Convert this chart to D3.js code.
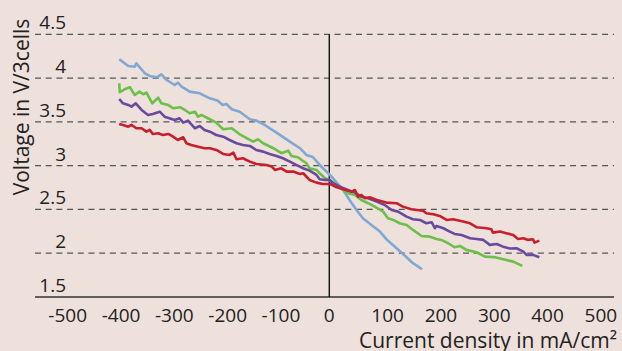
<!DOCTYPE html>
<html>
<head>
<meta charset="utf-8">
<script src="https://cdn.jsdelivr.net/npm/d3@7"></script>
<style>
  html, body { margin: 0; padding: 0; background: #eee0da; }
  svg { display: block; font-family: "Open Sans", "Noto Sans", sans-serif; }
</style>
</head>
<body>
<div id="chart"></div>
<script>
// Données : [densité de courant mA/cm², tension V]
const blueSeries = [[-394,4.215],[-377,4.138],[-365,4.130],[-362,4.169],[-346,4.055],[-337,4.024],[-324,4.009],[-315,4.043],[-305,3.978],[-290,3.921],[-284,3.947],[-277,3.902],[-262,3.845],[-243,3.826],[-224,3.769],[-209,3.742],[-200,3.693],[-193,3.704],[-183,3.644],[-168,3.616],[-149,3.530],[-137,3.514],[-124,3.476],[-99,3.377],[-74,3.274],[-55,3.199],[-43,3.122],[-31,3.099],[-18,3.008],[-2,2.913],[7,2.856],[26,2.722],[38,2.607],[51,2.493],[63,2.400],[79,2.323],[95,2.247],[107,2.160],[132,2.026],[157,1.886],[174,1.817]];

const greenSeries = [[-394,3.941],[-393,3.838],[-384,3.872],[-374,3.895],[-365,3.807],[-356,3.845],[-349,3.815],[-343,3.833],[-332,3.712],[-321,3.776],[-315,3.712],[-302,3.693],[-293,3.655],[-280,3.667],[-271,3.636],[-262,3.598],[-252,3.616],[-246,3.559],[-240,3.579],[-224,3.530],[-212,3.491],[-199,3.416],[-183,3.427],[-168,3.358],[-143,3.274],[-134,3.301],[-124,3.256],[-105,3.199],[-90,3.142],[-77,3.171],[-71,3.111],[-59,3.096],[-43,3.027],[-37,2.970],[-24,2.951],[-18,2.913],[-8,2.856],[1,2.829],[10,2.799],[26,2.722],[35,2.685],[48,2.665],[60,2.608],[73,2.571],[85,2.532],[101,2.475],[110,2.400],[120,2.380],[132,2.342],[145,2.323],[157,2.266],[173,2.197],[189,2.189],[201,2.163],[210,2.152],[223,2.114],[235,2.068],[245,2.083],[257,2.038],[276,2.011],[292,1.961],[311,1.954],[326,1.932],[345,1.904],[362,1.855]];

const purpleSeries = [[-394,3.761],[-387,3.712],[-377,3.693],[-371,3.674],[-363,3.712],[-352,3.636],[-340,3.579],[-331,3.590],[-318,3.616],[-309,3.559],[-300,3.541],[-290,3.522],[-281,3.541],[-274,3.491],[-265,3.514],[-252,3.427],[-243,3.453],[-234,3.408],[-224,3.388],[-212,3.350],[-199,3.331],[-187,3.293],[-174,3.256],[-162,3.236],[-149,3.225],[-137,3.179],[-124,3.160],[-112,3.134],[-99,3.111],[-87,3.084],[-74,3.046],[-62,3.008],[-49,2.970],[-37,2.943],[-24,2.894],[-18,2.845],[-8,2.837],[1,2.837],[7,2.799],[20,2.760],[35,2.722],[48,2.692],[60,2.646],[73,2.628],[89,2.589],[104,2.551],[117,2.494],[129,2.475],[145,2.418],[157,2.388],[170,2.380],[182,2.342],[192,2.354],[198,2.285],[201,2.312],[214,2.285],[226,2.247],[235,2.220],[248,2.209],[264,2.171],[276,2.163],[289,2.152],[301,2.095],[314,2.106],[326,2.075],[339,2.053],[351,2.057],[364,2.018],[370,1.981],[382,1.981],[394,1.954]];

const redSeries = [[-394,3.476],[-387,3.465],[-377,3.445],[-371,3.465],[-362,3.427],[-352,3.427],[-343,3.388],[-337,3.408],[-331,3.362],[-321,3.370],[-312,3.350],[-302,3.362],[-293,3.331],[-284,3.293],[-274,3.324],[-268,3.256],[-259,3.236],[-246,3.217],[-234,3.199],[-224,3.199],[-212,3.179],[-199,3.134],[-187,3.122],[-180,3.148],[-174,3.073],[-162,3.084],[-149,3.046],[-137,3.019],[-118,3.008],[-108,2.989],[-102,2.951],[-90,2.970],[-80,2.932],[-68,2.932],[-55,2.905],[-49,2.913],[-37,2.837],[-24,2.806],[-12,2.791],[1,2.791],[14,2.753],[26,2.731],[42,2.703],[48,2.722],[54,2.646],[60,2.665],[67,2.628],[76,2.639],[89,2.608],[107,2.578],[126,2.571],[138,2.532],[154,2.502],[164,2.494],[176,2.486],[182,2.457],[195,2.445],[207,2.426],[220,2.380],[232,2.388],[251,2.361],[264,2.342],[276,2.297],[295,2.285],[304,2.274],[307,2.235],[320,2.247],[332,2.228],[345,2.209],[354,2.163],[364,2.171],[373,2.152],[382,2.160],[385,2.121],[394,2.144]];

const seriesColors = ["#80a8d4", "#6cbf48", "#6a4a9e", "#c81f2e"];
const xTicks = [-500, -400, -300, -200, -100, 0, 100, 200, 300, 400, 500];
const yTicks = [1.5, 2, 2.5, 3, 3.5, 4, 4.5];
const yGrid = [2, 2.5, 3, 3.5, 4, 4.5];

const W = 622, H = 351;

const svg = d3.select("#chart")
  .append("svg")
  .attr("width", W)
  .attr("height", H);

svg.append("rect")
  .attr("width", W).attr("height", H)
  .attr("fill", "#eee0da");

// Échelles
const x = d3.scaleLinear().domain([-552, 534]).range([35, 614]);
const y = d3.scaleLinear().domain([1.5, 4.5]).range([297, 34.3]);

// Grille pointillée
svg.append("g")
  .selectAll("line")
  .data(yGrid)
  .join("line")
  .attr("x1", x(-552)).attr("x2", x(534))
  .attr("y1", d => y(d)).attr("y2", d => y(d))
  .attr("stroke", "#555")
  .attr("stroke-width", 1.3)
  .attr("stroke-dasharray", "6,4.7");

// Axe horizontal
svg.append("line")
  .attr("x1", x(-552)).attr("x2", x(534))
  .attr("y1", y(1.5)).attr("y2", y(1.5))
  .attr("stroke", "#333")
  .attr("stroke-width", 1.3);

// Axe vertical à x = 0
svg.append("line")
  .attr("x1", x(0)).attr("x2", x(0))
  .attr("y1", y(4.5)).attr("y2", y(1.5))
  .attr("stroke", "#111")
  .attr("stroke-width", 1.4);

// Labels des ticks Y (au-dessus des lignes)
svg.append("g")
  .selectAll("text")
  .data(yTicks)
  .join("text")
  .attr("x", 66)
  .attr("y", d => y(d) - 5)
  .attr("text-anchor", "end")
  .attr("fill", "#222")
  .style("font-size", "19px")
  .text(d => d);

// Labels des ticks X
svg.append("g")
  .selectAll("text")
  .data(xTicks)
  .join("text")
  .attr("x", d => x(d) + (d === 0 ? 0 : 5))
  .attr("y", 322)
  .attr("text-anchor", "middle")
  .attr("fill", "#222")
  .style("font-size", "19px")
  .text(d => d);

// Titres des axes
svg.append("text")
  .attr("x", 617)
  .attr("y", 348)
  .attr("text-anchor", "end")
  .attr("fill", "#222")
  .style("font-size", "21px")
  .text("Current density in mA/cm²");

svg.append("text")
  .attr("transform", "translate(28.5,107) rotate(-90)")
  .attr("text-anchor", "middle")
  .attr("fill", "#222")
  .style("font-size", "21px")
  .text("Voltage in V/3cells");

// Courbes
const line = d3.line()
  .x(d => x(d[0]))
  .y(d => y(d[1]));

[blueSeries, greenSeries, purpleSeries, redSeries].forEach((s, i) => {
  svg.append("path")
    .datum(s)
    .attr("d", line)
    .attr("fill", "none")
    .attr("stroke", seriesColors[i])
    .attr("stroke-width", 2.6)
    .attr("stroke-linejoin", "round");
});
</script>
</body>
</html>
